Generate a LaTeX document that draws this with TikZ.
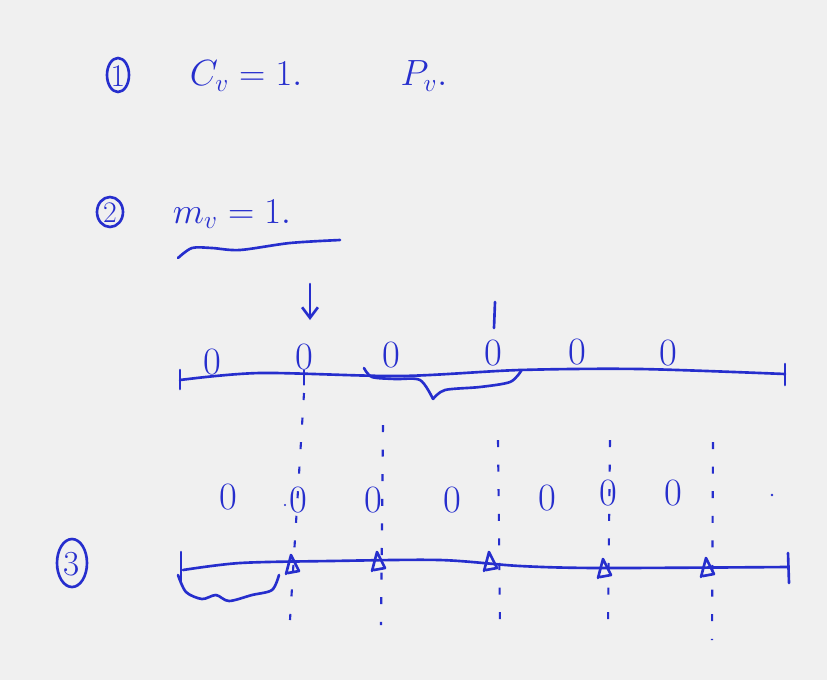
\documentclass[tikz,border=0pt]{standalone}
\usetikzlibrary{arrows.meta}
\definecolor{ink}{RGB}{38,46,205}
\definecolor{paper}{RGB}{240,240,240}
\begin{document}
\begin{tikzpicture}[x=0.02cm,y=-0.02cm,
  pen/.style={draw=ink,line width=1.5pt,line cap=round,line join=round},
  dashline/.style={draw=ink,line width=1.2pt,dash pattern=on 4pt off 10pt},
  big/.style={text=ink,font=\fontsize{22}{26}\selectfont,inner sep=0pt},
  zero/.style={text=ink,font=\fontsize{22}{24}\selectfont,inner sep=0pt}]
\fill[paper] (0,0) rectangle (827,680);
\useasboundingbox (0,0) rectangle (827,680);

% --- row 1
\draw[pen] (118,75) ellipse (11 and 17);
\node[big] (one) at (118,76) {\fontsize{18}{20}\selectfont 1};
\node[big] (cv) at (246,76) {$C_v = 1.$};
\node[big] (pv) at (424,76) {$P_v.$};

% --- row 2
\draw[pen] (110,212) ellipse (13 and 15);
\node[big] (two) at (110,213) {\fontsize{17}{18}\selectfont 2};
\node[big] (mv) at (232,214) {$m_v = 1.$};
\draw[pen] plot[smooth] coordinates {(178,258) (192,248) (212,248) (240,250) (290,243) (340,240)};

% --- number line 1
\draw[pen] plot[smooth] coordinates {(180,380) (260,373) (400,376) (520,370) (640,369) (785,374)};
\draw[pen] (180,370) -- (180,389);
\draw[pen] (785,364) -- (785,385);
\node[zero] (a1) at (212,362) {0};
\node[zero] (a2) at (304,357) {0};
\node[zero] (a3) at (391,355) {0};
\node[zero] (a4) at (493,353) {0};
\node[zero] (a5) at (577,352) {0};
\node[zero] (a6) at (668,353) {0};
\draw[pen] (a2.south) -- ++(0,14);
\coordinate (arT) at (310,284);
\coordinate (arB) at (310,320);
\draw[pen,-{Straight Barb[length=6pt,width=9pt]}] (arT) -- (arB);
\draw[pen] (495,302) -- (494,328);
% brace
\draw[pen] plot[smooth] coordinates {(364,368) (372,377) (395,379) (420,380) (433,399)};
\draw[pen] plot[smooth] coordinates {(433,399) (445,390) (480,387) (510,382) (521,371)};

% --- dashed guides
\draw[dashline] (304,393) -- (290,620);
\draw[dashline] (383,425) -- (381,625);
\draw[dashline] (498,440) -- (500,625);
\draw[dashline] (610,440) -- (608,625);
\draw[dashline] (713,442) -- (712,640);

% --- row of zeros
\node[zero] (b1) at (228,497) {0};
\node[zero] (b2) at (298,500) {0};
\node[zero] (b3) at (373,500) {0};
\node[zero] (b4) at (452,500) {0};
\node[zero] (b5) at (547,498) {0};
\node[zero] (b6) at (608,493) {0};
\node[zero] (b7) at (673,493) {0};
\fill[ink] (772,495) circle (1.3);
\fill[ink] (285,505) circle (1.2);

% --- row 3
\draw[pen] (72,563) ellipse (15 and 24);
\node[big] (three) at (72,564) {\fontsize{20}{22}\selectfont 3};
\draw[pen] plot[smooth] coordinates {(183,570) (240,563) (330,561) (440,560) (520,566) (600,568) (787,567)};
\draw[pen] (181,552) -- (181,582);
\draw[pen] (788,553) -- (789,583);
\foreach \x/\y in {292/565, 378/562, 490/562, 604/569, 707/568}{
  \draw[pen] (\x-6,\y+9) -- (\x-1,\y-10) -- (\x+7,\y+6) -- (\x-4,\y+8);
}
\draw[pen] plot[smooth] coordinates {(178,575) (186,592) (202,599) (216,595) (229,601) (252,595) (272,590) (279,575)};
\end{tikzpicture}
\end{document}
